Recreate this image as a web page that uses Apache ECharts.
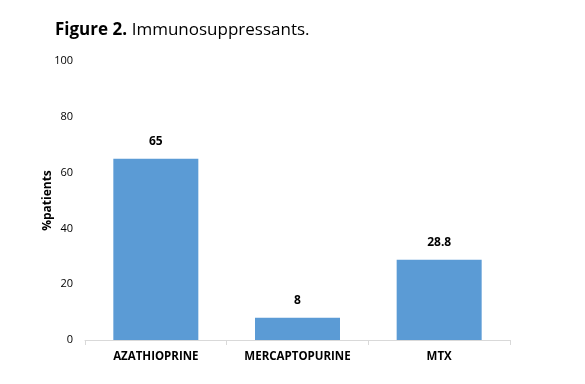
<!DOCTYPE html>
<html><head><meta charset="utf-8">
<script src="https://cdn.jsdelivr.net/npm/echarts@6/dist/echarts.min.js"></script>
<style>html,body{margin:0;padding:0;background:#fff}#c{width:585px;height:384px}</style>
</head><body><div id="c"></div>
<script>
const categories = ['AZATHIOPRINE', 'MERCAPTOPURINE', 'MTX'];
const values = [65, 8, 28.8];
const yTicks = [0, 20, 40, 60, 80, 100];

const chart = echarts.init(document.getElementById('c'));
chart.setOption({
  animation: false,
  textStyle: { fontFamily: 'Open Sans' },
  title: {
    text: '{b|Figure 2.} {n|Immunosuppressants.}',
    left: 50, top: 16,
    textStyle: {
      fontWeight: 'normal',
      rich: {
        b: { fontWeight: 'bold', fontSize: 17, color: '#000', fontFamily: 'Open Sans' },
        n: { fontWeight: 'normal', fontSize: 17, color: '#000', fontFamily: 'Open Sans' }
      }
    }
  },
  grid: { left: 85, right: 75, top: 61, bottom: 44 },
  xAxis: {
    type: 'category',
    data: categories,
    axisLine: { lineStyle: { color: '#d9d9d9' } },
    axisTick: { show: true, length: 5, lineStyle: { color: '#d9d9d9' } },
    axisLabel: { color: '#000', fontWeight: 'bold', fontSize: 11.5, margin: 11 }
  },
  yAxis: {
    type: 'value',
    min: yTicks[0], max: yTicks[yTicks.length - 1], interval: 20,
    name: '%patients',
    nameLocation: 'middle',
    nameGap: 31,
    nameMoveOverlap: false,
    nameTextStyle: { color: '#000', fontWeight: 'bold', fontSize: 12 },
    axisLine: { show: false },
    axisTick: { show: false },
    splitLine: { show: false },
    axisLabel: { color: '#000', fontSize: 11, margin: 12 }
  },
  series: [{
    type: 'bar',
    data: values,
    barCategoryGap: '40%',
    itemStyle: { color: '#5B9BD5' },
    label: { show: true, position: 'top', color: '#000', fontWeight: 'bold', fontSize: 12, distance: 11 }
  }]
});
</script></body></html>
